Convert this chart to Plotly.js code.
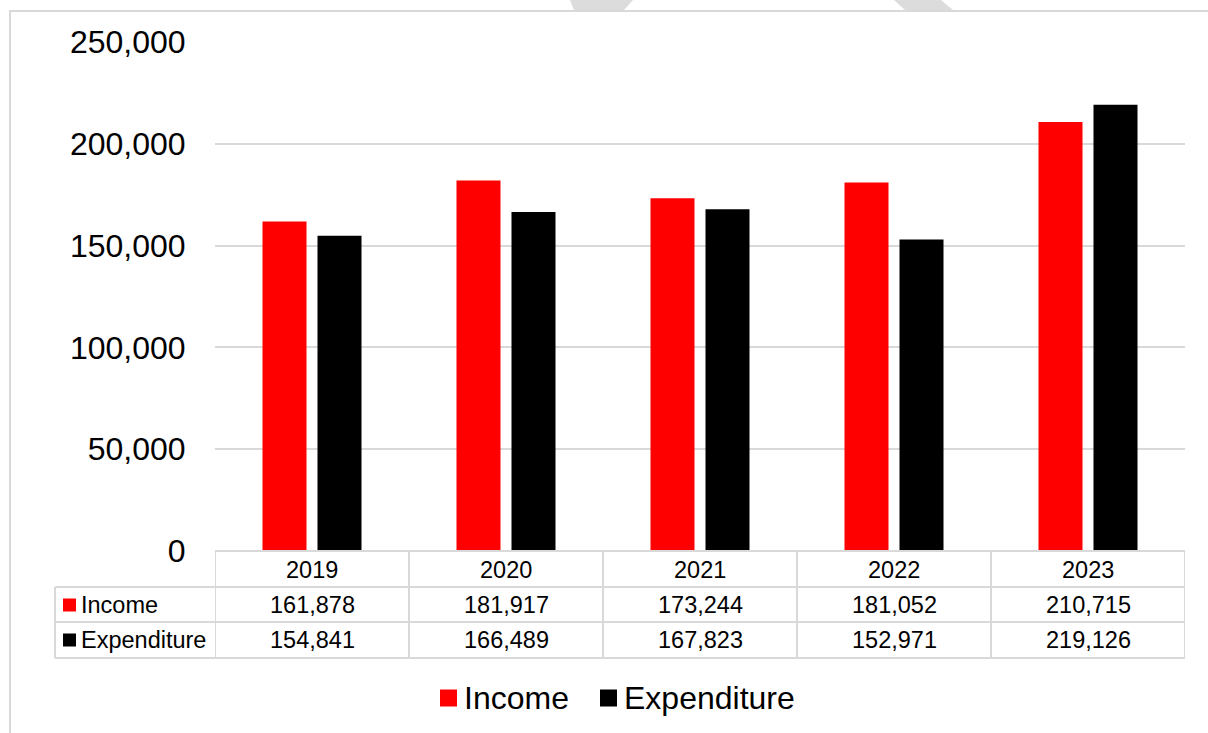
<!DOCTYPE html>
<html>
<head>
<meta charset="utf-8">
<script src="https://cdn.plot.ly/plotly-3.0.1.min.js"></script>
<style>
html,body{margin:0;padding:0;background:#fff;}
#chart{width:1208px;height:733px;}
</style>
</head>
<body>
<div id="chart"></div>
<script>
// ---- data ----
const years = ['2019', '2020', '2021', '2022', '2023'];
const seriesNames = ['Income', 'Expenditure'];
const income = [161878, 181917, 173244, 181052, 210715];
const expenditure = [154841, 166489, 167823, 152971, 219126];
const yTicks = [0, 50000, 100000, 150000, 200000, 250000];

// ---- styling ----
const FONT = 'Liberation Sans, Arial, sans-serif';
const COLORS = ['#ff0000', '#000000'];
const GRID = '#d9d9d9';
const L = 215, R = 1185, T = 42, B = 551;
const W = R - L, H = B - T;
const px = x => (x - L) / W;
const py = y => (B - y) / H;
const fmt = v => v.toLocaleString('en-US');

const values = [income, expenditure];

const traces = seriesNames.map((name, i) => ({
  type: 'bar',
  name: name,
  x: years,
  y: values[i],
  marker: {color: COLORS[i]},
  hoverinfo: 'none'
}));

const shapes = [];
const annotations = [];
const line = {color: GRID, width: 2};
const TABLE_SIZE = 23.5;

// outer border
shapes.push({type: 'rect', xref: 'paper', yref: 'paper', x0: px(10), x1: px(1240), y0: py(11), y1: py(760), line: line, fillcolor: 'rgba(0,0,0,0)', layer: 'below'});
// watermark fragments
shapes.push({type: 'path', xref: 'paper', yref: 'paper',
  path: `M${px(570)},${py(0)} L${px(633)},${py(0)} L${px(624)},${py(10)} L${px(574)},${py(10)} Z`,
  fillcolor: '#dcdcdc', line: {width: 0}});
shapes.push({type: 'path', xref: 'paper', yref: 'paper',
  path: `M${px(894)},${py(0)} L${px(941)},${py(0)} L${px(953)},${py(10)} L${px(905)},${py(10)} Z`,
  fillcolor: '#dcdcdc', line: {width: 0}});

// table horizontal lines
shapes.push({type: 'line', xref: 'paper', yref: 'paper', x0: 0, x1: 1, y0: 0, y1: 0, line: line});
[587, 622, 658].forEach(y => shapes.push({type: 'line', xref: 'paper', yref: 'paper', x0: px(55), x1: 1, y0: py(y), y1: py(y), line: line}));
// table vertical lines at category boundaries
for (let i = 0; i <= years.length; i++) {
  shapes.push({type: 'line', xref: 'x', yref: 'paper', x0: i - 0.5, x1: i - 0.5, y0: 0, y1: py(658), line: line});
}
shapes.push({type: 'line', xref: 'paper', yref: 'paper', x0: px(55), x1: px(55), y0: py(587), y1: py(658), line: line});

// header row (years)
years.forEach((yr, j) => annotations.push({
  xref: 'x', yref: 'paper', x: j, y: 0, yshift: -19, yanchor: 'middle', xanchor: 'center',
  text: yr, showarrow: false, font: {family: FONT, size: TABLE_SIZE, color: '#000'}
}));
// value rows
const rowCenters = [605, 640];
seriesNames.forEach((name, i) => {
  const yc = rowCenters[i];
  shapes.push({type: 'rect', xref: 'paper', yref: 'paper', x0: px(63), x1: px(76), y0: py(yc - 6.5), y1: py(yc + 6.5), fillcolor: COLORS[i], line: {width: 0}});
  annotations.push({xref: 'paper', yref: 'paper', x: px(79), y: py(yc), xanchor: 'left', yanchor: 'middle',
    text: name, showarrow: false, font: {family: FONT, size: TABLE_SIZE, color: '#000'}});
  values[i].forEach((v, j) => annotations.push({
    xref: 'x', yref: 'paper', x: j, y: py(yc), xanchor: 'center', yanchor: 'middle',
    text: fmt(v), showarrow: false, font: {family: FONT, size: TABLE_SIZE, color: '#000'}
  }));
});

// bottom legend
const legendItems = [{sq: 440, tx: 462}, {sq: 600, tx: 622}];
seriesNames.forEach((name, i) => {
  const yc = 698;
  shapes.push({type: 'rect', xref: 'paper', yref: 'paper', x0: px(legendItems[i].sq), x1: px(legendItems[i].sq + 17), y0: py(yc - 8.5), y1: py(yc + 8.5), fillcolor: COLORS[i], line: {width: 0}});
  annotations.push({xref: 'paper', yref: 'paper', x: px(legendItems[i].tx), y: py(yc), xanchor: 'left', yanchor: 'middle',
    text: name, showarrow: false, font: {family: FONT, size: 32, color: '#000'}});
});

const layout = {
  width: 1208, height: 733,
  margin: {l: L, r: 1208 - R, t: T, b: 733 - B, pad: 0},
  paper_bgcolor: '#fff', plot_bgcolor: '#fff',
  showlegend: false,
  barmode: 'group', bargap: 0.433, bargroupgap: 0.2,
  font: {family: FONT, color: '#000'},
  xaxis: {type: 'category', range: [-0.5, years.length - 0.5], showticklabels: false, showgrid: false, zeroline: false, showline: false, ticks: ''},
  yaxis: {range: [0, 250000], tickvals: yTicks, ticktext: yTicks.map(fmt), showgrid: true, gridcolor: GRID, gridwidth: 2,
    zeroline: false, showline: false, ticks: 'outside', ticklen: 0, ticklabelstandoff: 22, tickfont: {family: FONT, size: 32, color: '#000'}},
  shapes: shapes,
  annotations: annotations
};

Plotly.newPlot('chart', traces, layout, {displayModeBar: false, staticPlot: true});
</script>
</body>
</html>
